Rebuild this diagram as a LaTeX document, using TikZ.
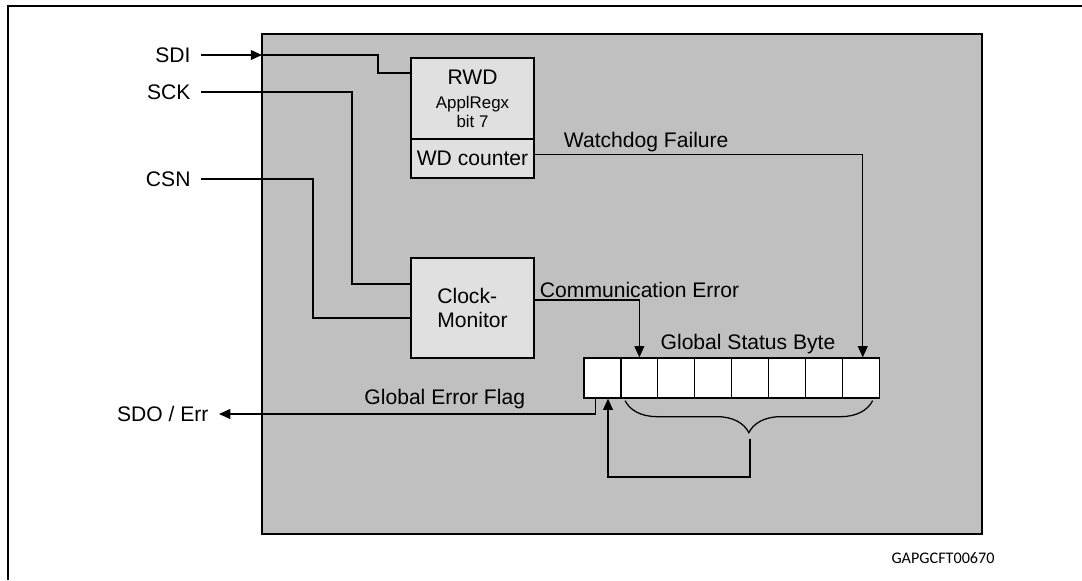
\documentclass[tikz,border=0pt]{standalone}
\usepackage{fontspec}
\setmainfont{Liberation Sans}
\newfontfamily\codefont{Carlito}
\usetikzlibrary{arrows.meta, positioning, decorations.pathreplacing, calc}
\definecolor{chipgray}{RGB}{192,192,192}
\definecolor{blockgray}{RGB}{224,224,224}
\newcommand{\sigfont}{\fontsize{15}{17}\selectfont}
\newcommand{\regfont}{\fontsize{12}{14}\selectfont}

\begin{document}
\begin{tikzpicture}[x=0.025cm, y=-0.025cm, >={Triangle[length=8pt, width=7pt]}, line width=0.9pt,
  block/.style={draw, fill=blockgray, minimum width=3.075cm, inner sep=0pt, font=\sigfont},
  bitcell/.style={draw, fill=white, minimum width=0.922cm, minimum height=1cm, inner sep=0pt},
  pin/.style={font=\sigfont, anchor=east, inner xsep=7pt},
  sig/.style={font=\sigfont}]
  \useasboundingbox (0,0) rectangle (1082,580);

  % Frame and chip area
  \draw[line width=1.8pt] (8,580) -- (8,6) -- (1082,6);
  \draw[line width=0.8pt, fill=chipgray] (262,34) rectangle (982,534);

  % Blocks
  \node[block, minimum height=2.025cm, align=center] (rwd) at (472.5,98.5)
    {RWD\\\regfont ApplRegx\\[-3.5pt]\regfont bit 7};
  \node[block, minimum height=0.975cm] (wdc) at (472.5,158.5) {WD counter};
  \node[block, minimum height=2.5cm, align=left] (clk) at (472.5,308)
    {Clock-\\Monitor};

  % Global status byte
  \foreach \i in {0,...,7}
    \node[bitcell] (b\i) at ({602.45+36.9*\i},378) {};
  \node[sig] (gsb) at (748,344) {Global Status Byte};

  % Pins
  \node[pin] (sdi) at (201,55) {SDI};
  \node[pin] (sck) at (201,92) {SCK};
  \node[pin] (csn) at (201,179) {CSN};
  \node[pin] (sdo) at (219,414) {SDO / Err};

  \coordinate (sdiin) at (262,55);
  \coordinate (sdibend) at (378,73);
  \coordinate (sckbend) at (352,284);
  \coordinate (csnbend) at (313,318);

  % Inputs
  \draw[->] (sdi.east) -- (sdiin);
  \draw (sdiin) -| (sdibend) -- (sdibend -| rwd.west);
  \draw (sck.east) -| (sckbend) -- (sckbend -| clk.west);
  \draw (csn.east) -| (csnbend) -- (csnbend -| clk.west);

  % Error signals
  \draw[->] ([yshift=0.1cm]wdc.east) -| ([xshift=0.05cm]b7.north)
    node[sig, pos=0.17, above, inner ysep=1.5pt] {Watchdog Failure};
  \draw[->] ([yshift=0.2cm]clk.east) -| (b1.north)
    node[sig, pos=0, above right, inner ysep=1.5pt] {Communication Error};
  \draw[->] ([xshift=-0.18cm]b0.south) |- (sdo.east)
    node[sig, pos=0.7, above] {Global Error Flag};

  % Feedback of the status bits
  \draw[decorate, decoration={brace, amplitude=0.8cm}]
    ([xshift=-0.18cm, yshift=-0.05cm]b7.south east) -- ([xshift=0.12cm, yshift=-0.05cm]b1.south west);
  \coordinate (bmid) at ($(b1.south west)!0.5!(b7.south east)$);
  \coordinate (fbtop) at ($(bmid)+(0,40)$);
  \coordinate (fbcorner) at (608,477);
  \draw[->] (fbtop) |- (fbcorner) -- (fbcorner |- b0.south);

  % Figure code
  \node[font=\codefont\fontsize{11.5}{13}\selectfont] (code) at (943,558) {GAPGCFT00670};
\end{tikzpicture}
\end{document}
